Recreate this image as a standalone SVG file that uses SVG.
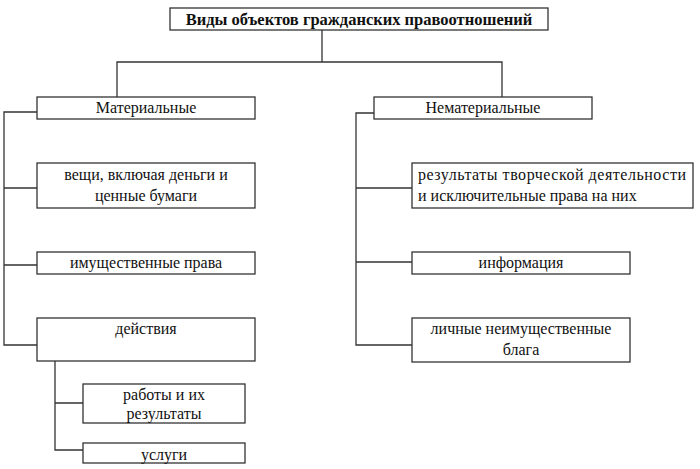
<svg xmlns="http://www.w3.org/2000/svg" width="700" height="469" viewBox="0 0 700 469" font-family="Liberation Serif, Times New Roman, DejaVu Serif, serif">
<style>
rect{fill:#fff;stroke:#333;stroke-width:1.3}
text{font-family:'Liberation Serif','Times New Roman','DejaVu Serif',serif;font-size:16px;fill:#111;text-anchor:middle}
.t{font-weight:bold;font-size:16.5px}
#c path{fill:none;stroke:#333;stroke-width:1.3}
</style>
<rect x="0" y="0" width="700" height="469" style="stroke:none"/>
<g id="c">
<path d="M322 30V62M117 97V62H502V97"/>
<path d="M37 112H4V345H37M4 188H37M4 265H37"/>
<path d="M55 361V450H83M55 403H83"/>
<path d="M374 113H356V345H412M356 188H412M356 262H412"/>
</g>
<g id="title"><rect x="170" y="8" width="378" height="22"/><text class="t" x="359" y="25">Виды объектов гражданских правоотношений</text></g>
<g id="mat"><rect x="37" y="97" width="218" height="22"/><text x="146" y="113">Материальные</text></g>
<g id="nemat"><rect x="374" y="97" width="218" height="22"/><text x="483" y="113">Нематериальные</text></g>
<g id="veshi"><rect x="37" y="163" width="218" height="45"/><text x="146" y="180">вещи, включая деньги и</text><text x="146" y="201">ценные бумаги</text></g>
<g id="imush"><rect x="37" y="252" width="218" height="22"/><text x="146" y="268">имущественные права</text></g>
<g id="deistv"><rect x="37" y="318" width="218" height="43"/><text x="146" y="334">действия</text></g>
<g id="raboty"><rect x="83" y="384" width="162" height="39"/><text x="164" y="400">работы и их</text><text x="164" y="419">результаты</text></g>
<g id="uslugi"><rect x="83" y="443" width="162" height="20"/><text x="164" y="460">услуги</text></g>
<g id="rezult"><rect x="412" y="163" width="281" height="45"/><text x="418" y="180" style="text-anchor:start" textLength="268">результаты творческой деятельности</text><text x="418" y="201" style="text-anchor:start">и исключительные права на них</text></g>
<g id="info"><rect x="412" y="252" width="218" height="22"/><text x="521" y="268">информация</text></g>
<g id="lichn"><rect x="412" y="318" width="218" height="44"/><text x="521" y="334">личные неимущественные</text><text x="521" y="355">блага</text></g>
</svg>
